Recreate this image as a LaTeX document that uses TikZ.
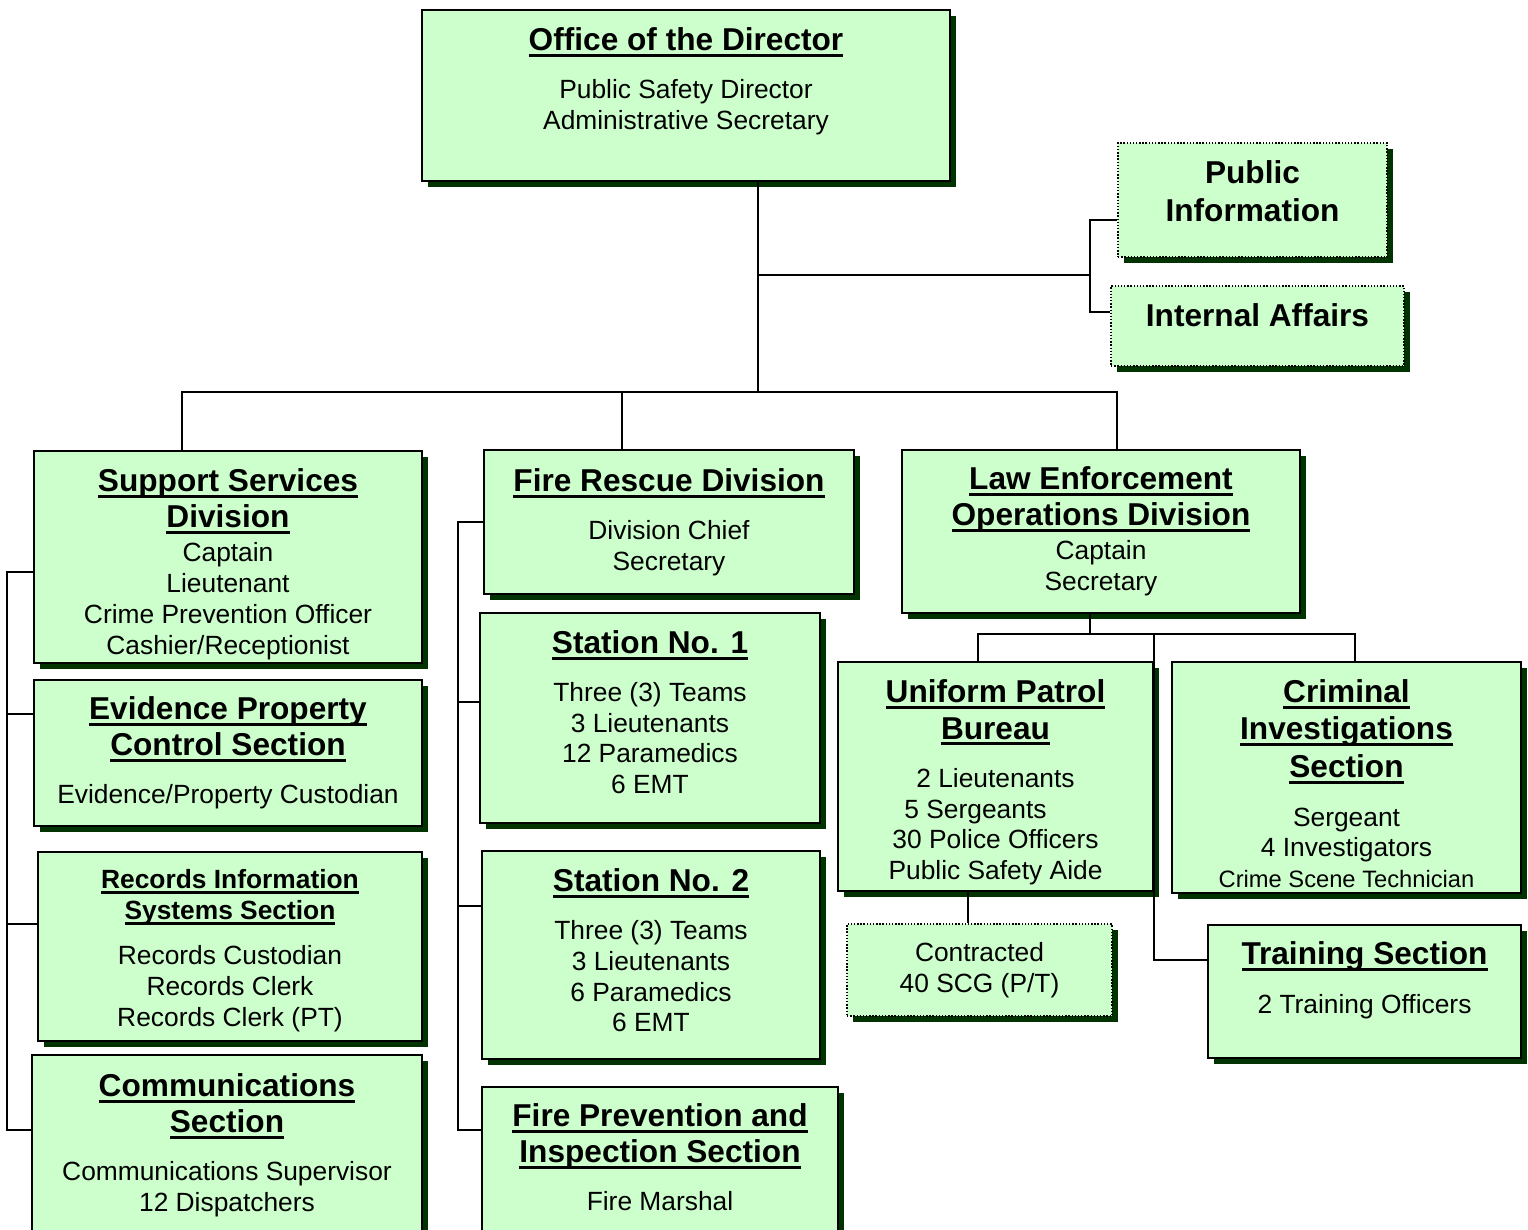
\documentclass[tikz,border=0pt]{standalone}
\usepackage{fontspec}
\setmainfont{Liberation Sans}
\usepackage{xcolor}
\usepackage{tikz}
\usetikzlibrary{positioning,shadows}
\definecolor{boxgreen}{RGB}{204,255,204}
\definecolor{shadegreen}{RGB}{0,51,0}
\newcommand{\undl}[1]{\setbox0\hbox{#1}\rlap{\rule[-0.2em]{\wd0}{0.09em}}\box0}
\newcommand{\ttl}[1]{{\fontsize{18}{20.5}\selectfont\bfseries\undl{#1}}}
\newcommand{\ttls}[1]{{\bfseries\undl{#1}}}
\newcommand{\hd}[1]{{\fontsize{18}{20.5}\selectfont\bfseries #1}}
\newcommand{\lift}[1]{\rule[-#1]{0pt}{0pt}}
\newcommand{\sink}[1]{\rule{0pt}{#1}}

\begin{document}
\begin{tikzpicture}[x=0.02cm,y=-0.02cm,
  orgbox/.style={draw,line width=1pt,fill=boxgreen,align=center,inner sep=2pt,
    font=\fontsize{15}{17.5}\selectfont,
    drop shadow={shadow xshift=0.12cm,shadow yshift=-0.12cm,fill=shadegreen,opacity=1}},
  staffbox/.style={orgbox,line width=0.8pt,densely dotted},
  conn/.style={draw,line width=1pt}]
\useasboundingbox (0,0) rectangle (1528,1230);
% director and staff
\node[orgbox,minimum width=10.56cm,minimum height=3.42cm] (dir) at (686,95.5)
  {\ttl{Office of the Director}\\[10pt]Public Safety Director\\Administrative Secretary\lift{0.68cm}};
\node[staffbox,minimum width=5.38cm,minimum height=2.28cm] (pio) at (1252.5,200)
  {\hd{Public}\\[4pt]\hd{Information}\lift{0.36cm}};
\node[staffbox,minimum width=5.86cm,minimum height=1.6cm] (ia) at (1257.5,326)
  {\hd{Internal Affairs}\lift{0.44cm}};
% divisions
\node[orgbox,minimum width=7.76cm,minimum height=4.24cm] (ssd) at (228,557)
  {\sink{0.74cm}\ttl{Support Services}\\[3pt]\ttl{Division}\\[2pt]Captain\\Lieutenant\\Crime Prevention Officer\\Cashier/Receptionist};
\node[orgbox,minimum width=7.4cm,minimum height=2.88cm] (frd) at (669,522)
  {\ttl{Fire Rescue Division}\\[10pt]Division Chief\\Secretary};
\node[orgbox,minimum width=7.96cm,minimum height=3.26cm] (leod) at (1101,531.5)
  {\ttl{Law Enforcement}\\[3pt]\ttl{Operations Division}\\[2pt]Captain\\Secretary};
% support services sections
\node[orgbox,minimum width=7.76cm,minimum height=2.92cm] (epc) at (228,753)
  {\ttl{Evidence Property}\\[3pt]\ttl{Control Section}\\[10pt]Evidence/Property Custodian};
\node[orgbox,minimum width=7.68cm,minimum height=3.78cm] (ris) at (230,946.5)
  {\sink{0.55cm}\ttls{Records Information}\\\ttls{Systems Section}\\[8.5pt]Records Custodian\\Records Clerk\\Records Clerk (PT)};
\node[orgbox,minimum width=7.8cm,minimum height=3.7cm] (com) at (227,1147.5)
  {\ttl{Communications}\\[3pt]\ttl{Section}\\[10pt]Communications Supervisor\\12 Dispatchers\lift{0.2cm}};
% fire rescue sections
\node[orgbox,minimum width=6.8cm,minimum height=4.2cm] (st1) at (650,718)
  {\ttl{Station No. 1}\\[10pt]Three (3) Teams\\3 Lieutenants\\12 Paramedics\\6 EMT\lift{0.24cm}};
\node[orgbox,minimum width=6.76cm,minimum height=4.16cm] (st2) at (651,955)
  {\ttl{Station No. 2}\\[10pt]Three (3) Teams\\3 Lieutenants\\6 Paramedics\\6 EMT\lift{0.2cm}};
\node[orgbox,minimum width=7.12cm,minimum height=3.06cm] (fpi) at (660,1163.5)
  {\ttl{Fire Prevention and}\\[3pt]\ttl{Inspection Section}\\[10pt]Fire Marshal\lift{0.26cm}};
% law enforcement sections
\node[orgbox,minimum width=6.3cm,minimum height=4.58cm] (upb) at (995.5,776.5)
  {\sink{0.7cm}\ttl{Uniform Patrol}\\[3pt]\ttl{Bureau}\\[10pt]2 Lieutenants\\5 Sergeants\rule{0.8cm}{0pt}\\30 Police Officers\\Public Safety Aide};
\node[orgbox,minimum width=6.98cm,minimum height=4.62cm] (cis) at (1346.5,777.5)
  {\sink{0.7cm}\ttl{Criminal}\\[4pt]\ttl{Investigations}\\[4pt]\ttl{Section}\\[10pt]Sergeant\\4 Investigators\\{\fontsize{13.5}{16}\selectfont Crime Scene Technician}};
\node[staffbox,minimum width=5.3cm,minimum height=1.84cm] (con) at (979.5,970)
  {Contracted\\40 SCG (P/T)};
\node[orgbox,minimum width=6.26cm,minimum height=2.66cm] (trn) at (1364.5,991.5)
  {\ttl{Training Section}\\[10pt]2 Training Officers\lift{0.56cm}};
% connectors
\coordinate (hub) at (758,393);
\coordinate (side) at (1090,275);
\draw[conn] (dir.south -| hub) -- (hub);
\draw[conn] (hub |- side) -- (side);
\draw[conn] ([yshift=-0.4cm]pio.west) -| (side) |- ([yshift=0.28cm]ia.west);
\draw[conn] ([xshift=-0.92cm]ssd.north) -- ++(0,-58) -| ([xshift=0.32cm]leod.north);
\draw[conn] ([xshift=-0.94cm]frd.north) -- ([xshift=-0.94cm]frd.north |- hub);
% support services bus
\draw[conn] ([yshift=-0.3cm]ssd.west) -- ++(-26,0) |- ([yshift=0.35cm]com.west);
\draw[conn] ([yshift=0.78cm]epc.west) -- ++(-26,0);
\draw[conn] ([yshift=0.45cm]ris.west) -- ++(-30,0);
% fire rescue bus
\draw[conn] (frd.west) -- ++(-25,0) |- ([yshift=0.67cm]fpi.west);
\draw[conn] ([yshift=0.32cm]st1.west) -- ++(-21,0);
\draw[conn] ([yshift=0.98cm]st2.west) -- ++(-23,0);
% law enforcement
\draw[conn] ([xshift=-0.22cm]leod.south) -- ++(0,20) coordinate (lj);
\draw[conn] ([xshift=-0.35cm]upb.north) |- (lj) -| ([xshift=0.17cm]cis.north);
\draw[conn] (lj -| upb.east) |- ([yshift=0.63cm]trn.west);
\draw[conn] ([xshift=-0.55cm]upb.south) -- ([xshift=-0.55cm]upb.south |- con.north);
\end{tikzpicture}
\end{document}
